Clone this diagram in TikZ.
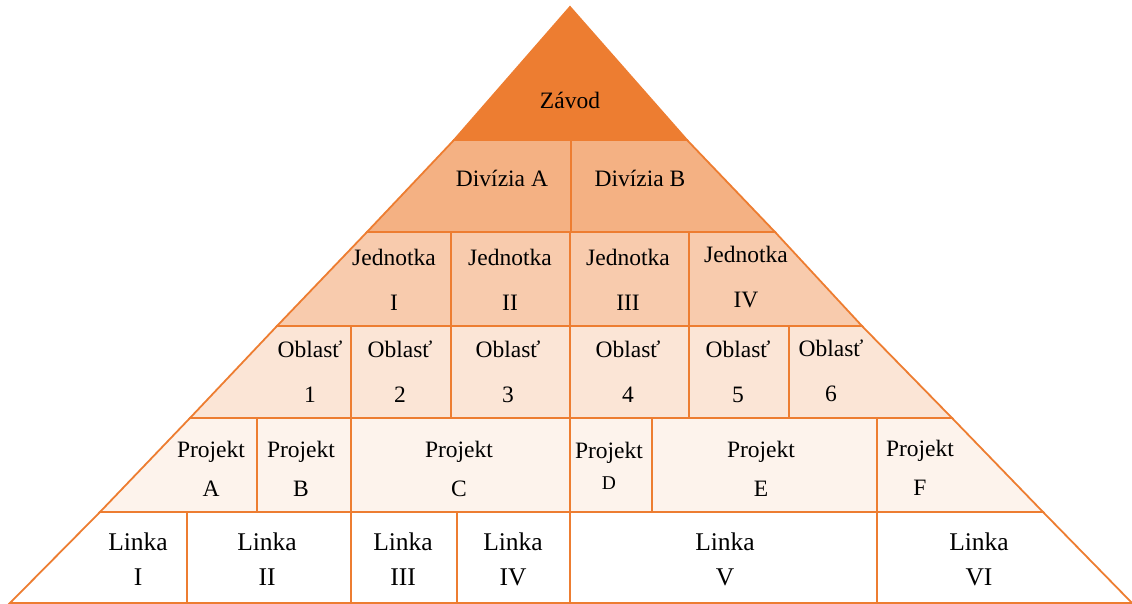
\documentclass[tikz,border=0pt]{standalone}
\usepackage{fontspec}
\setmainfont{Liberation Serif}
\usetikzlibrary{positioning}
\definecolor{zorange}{HTML}{ED7D31}
\definecolor{lvtwo}{HTML}{F4B183}
\definecolor{lvthree}{HTML}{F8CBAD}
\definecolor{lvfour}{HTML}{FBE5D6}
\definecolor{lvfive}{HTML}{FDF3EC}

\begin{document}
\begin{tikzpicture}[%
        x=1pt, y=-1pt,
        band/.style={%
          draw=zorange,
          line width=1.8pt,
          line join=miter
        },
        lbl/.style={align=center, inner sep=0pt, font=\fontsize{23.5}{45}\selectfont},
        projlbl/.style={lbl, font=\fontsize{23.5}{39}\selectfont},
        linklbl/.style={lbl, font=\fontsize{25.5}{35}\selectfont}
      ]
      \useasboundingbox (0,0) rectangle (1132,604);
      % bands of the pyramid
      \filldraw[band, fill=zorange] (570,7) -- (687,140) -- (454,140) -- cycle;
      \filldraw[band, fill=lvtwo] (454,140) -- (687,140) -- (775,232) -- (367,232) -- cycle;
      \filldraw[band, fill=lvthree] (367,232) -- (775,232) -- (862,326) -- (277,326) -- cycle;
      \filldraw[band, fill=lvfour] (277,326) -- (862,326) -- (952,418) -- (190,418) -- cycle;
      \filldraw[band, fill=lvfive] (190,418) -- (952,418) -- (1043,512) -- (100,512) -- cycle;
      \filldraw[band, fill=white] (100,512) -- (1043,512) -- (1132,603) -- (10,603) -- cycle;
      % cell borders
      \draw[band] (571,140) -- (571,232);
      \foreach \x in {451,570,689}
        \draw[band] (\x,232) -- (\x,326);
      \foreach \x in {351,451,570,689,789}
        \draw[band] (\x,326) -- (\x,418);
      \foreach \x in {257,351,570,652,877}
        \draw[band] (\x,418) -- (\x,512);
      \foreach \x in {187,351,457,570,877}
        \draw[band] (\x,512) -- (\x,603);
      % labels
      \node[lbl] (zavod) at (570,100) {Závod};
      \node[lbl] (divA) at (502,178) {Divízia A};
      \node[lbl] (divB) at (640,178) {Divízia B};
      \node[lbl] (jed1) at (394,280) {Jednotka\\I};
      \node[lbl] (jed2) at (510,280) {Jednotka\\II};
      \node[lbl] (jed3) at (628,280) {Jednotka\\III};
      \node[lbl] (jed4) at (746,277) {Jednotka\\IV};
      \node[lbl] (obl1) at (310,372) {Oblasť\\1};
      \node[lbl] (obl2) at (400,372) {Oblasť\\2};
      \node[lbl] (obl3) at (508,372) {Oblasť\\3};
      \node[lbl] (obl4) at (628,372) {Oblasť\\4};
      \node[lbl] (obl5) at (738,372) {Oblasť\\5};
      \node[lbl] (obl6) at (831,371) {Oblasť\\6};
      \node[projlbl] (projA) at (211,469) {Projekt\\A};
      \node[projlbl] (projB) at (301,469) {Projekt\\B};
      \node[projlbl] (projC) at (459,469) {Projekt\\C};
      \node[lbl, font=\fontsize{23.5}{31}\selectfont] (projD) at (609,466) {Projekt\\{\fontsize{19.5}{31}\selectfont D}};
      \node[projlbl] (projE) at (761,469) {Projekt\\E};
      \node[projlbl] (projF) at (920,468) {Projekt\\F};
      \node[linklbl] (lin1) at (138,559) {Linka\\I};
      \node[linklbl] (lin2) at (267,559) {Linka\\II};
      \node[linklbl] (lin3) at (403,559) {Linka\\III};
      \node[linklbl] (lin4) at (513,559) {Linka\\IV};
      \node[linklbl] (lin5) at (725,559) {Linka\\V};
      \node[linklbl] (lin6) at (979,559) {Linka\\VI};
  \end{tikzpicture}
\end{document}
